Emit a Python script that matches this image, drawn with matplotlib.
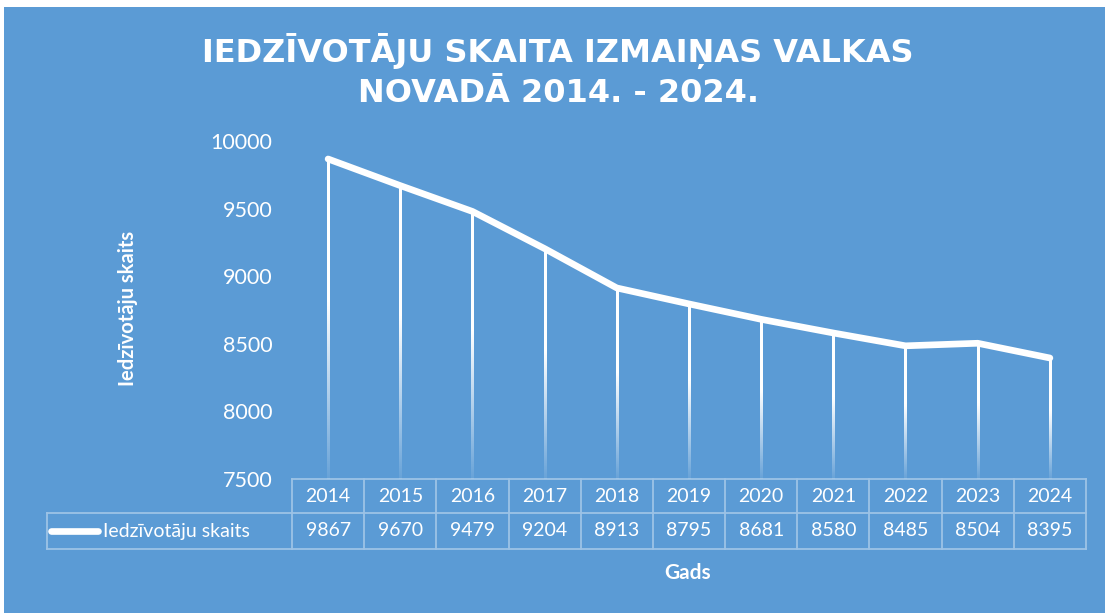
import matplotlib
matplotlib.use("Agg")
import matplotlib.pyplot as plt
import numpy as np
from matplotlib.patches import Rectangle
from matplotlib.colors import ListedColormap
from matplotlib.transforms import blended_transform_factory

years = ["2014", "2015", "2016", "2017", "2018", "2019", "2020", "2021", "2022", "2023", "2024"]
population = [9867, 9670, 9479, 9204, 8913, 8795, 8681, 8580, 8485, 8504, 8395]
y_ticks = [7500, 8000, 8500, 9000, 9500, 10000]
series_name = "Iedzīvotāju skaits"
title = "IEDZĪVOTĀJU SKAITA IZMAIŅAS VALKAS\nNOVADĀ 2014. - 2024."
x_label = "Gads"
y_label = "Iedzīvotāju skaits"

BG = "#5B9BD5"
GRID = "#9DC3E6"
FONT = "Lato"

W, H = 1105, 613
fig = plt.figure(figsize=(W / 100, H / 100), dpi=100)
fig.patch.set_facecolor("white")
fig.add_artist(Rectangle((4 / W, 0), 1 - 4 / W, 1 - 7 / H, transform=fig.transFigure,
                         facecolor=BG, edgecolor="none", zorder=0))

def fy(py):  # pixel from top -> figure fraction
    return 1 - py / H

left, right = 292 / W, 1086 / W
ax = fig.add_axes([left, fy(479), right - left, fy(141) - fy(479)])
ax.set_facecolor("none")
x = np.arange(len(years))

# drop lines with a fade towards the bottom (gradient image per line)
alpha_cmap = np.ones((256, 4))
t = np.linspace(0, 1, 256)  # 0 bottom -> 1 top
alpha_cmap[:, 3] = np.clip(0.08 + 0.92 * (t / 0.55), 0, 1)
cmap = ListedColormap(alpha_cmap)
half_w = 1.1 / ((right - left) * W) * len(years)
for xi, v in zip(x, population):
    grad = np.linspace(0, 1, 256).reshape(-1, 1)
    ax.imshow(grad, extent=(xi - half_w, xi + half_w, y_ticks[0], v), origin="lower",
              cmap=cmap, aspect="auto", interpolation="bilinear", zorder=2)
ax.set_xlim(-0.5, len(years) - 0.5)
ax.set_ylim(y_ticks[0], y_ticks[-1])

ax.plot(x, population, color="white", lw=4.8, solid_capstyle="round",
        solid_joinstyle="round", zorder=3)

ax.set_yticks(y_ticks)
ax.set_yticklabels([str(t) for t in y_ticks], fontsize=15.5, color="white", family=FONT)
ax.tick_params(axis="y", length=0, pad=14)
ax.set_xticks([])
for s in ax.spines.values():
    s.set_visible(False)

# data table
tr = blended_transform_factory(ax.transData, fig.transFigure)
y0, y1, y2 = fy(479), fy(513), fy(549)
lc = dict(color=GRID, lw=1.3, transform=tr, clip_on=False, zorder=1)
xb = np.arange(len(years) + 1) - 0.5
ax.plot([xb[0], xb[-1]], [y0, y0], **lc)
leg_x = ax.transData.inverted().transform((47, 0))[0]
ax.plot([leg_x, xb[-1]], [y1, y1], **lc)
ax.plot([leg_x, xb[-1]], [y2, y2], **lc)
for b in xb:
    ax.plot([b, b], [y0, y2], **lc)
ax.plot([leg_x, leg_x], [y1, y2], **lc)
for xi, yr, v in zip(x, years, population):
    ax.text(xi, (y0 + y1) / 2, yr, ha="center", va="center", color="white",
            fontsize=14, family=FONT, transform=tr)
    ax.text(xi, (y1 + y2) / 2, str(v), ha="center", va="center", color="white",
            fontsize=14, family=FONT, transform=tr)
fig.add_artist(plt.Line2D([51 / W, 98 / W], [(y1 + y2) / 2] * 2, color="white",
                          lw=4.8, solid_capstyle="round", transform=fig.transFigure))
fig.text(103 / W, (y1 + y2) / 2, series_name, ha="left", va="center", color="white",
         fontsize=14, family=FONT)

fig.text(688 / W, fy(573), x_label, ha="center", va="center", color="white",
         fontsize=15, fontweight="bold", family=FONT)
fig.text(128 / W, fy(308), y_label, ha="center", va="center", color="white",
         fontsize=14.5, fontweight="bold", family=FONT, rotation=90)

fig.text(558 / W, fy(71), title, ha="center", va="center", color="white",
         fontsize=23, fontweight="bold", family="DejaVu Sans", linespacing=1.4)

fig.savefig("out.png", dpi=100, facecolor=fig.get_facecolor())
